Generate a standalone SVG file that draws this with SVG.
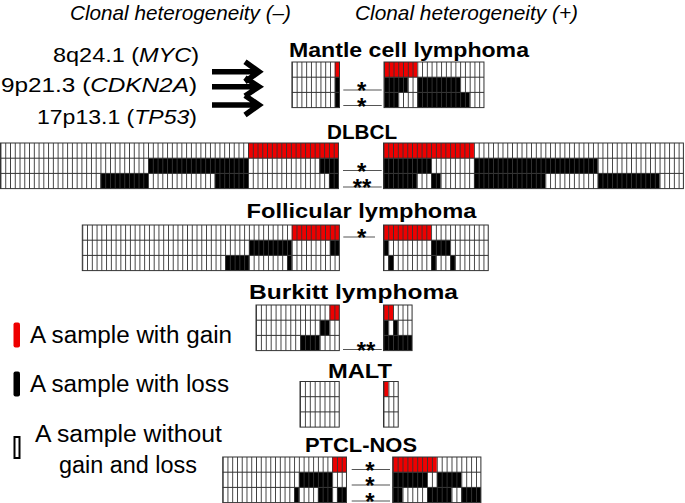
<svg xmlns="http://www.w3.org/2000/svg" width="685" height="503" viewBox="0 0 685 503">
<style>
text{font-family:"Liberation Sans",Arial,sans-serif;fill:#000}
.hd{font-size:21px;font-style:italic}
.gn{font-size:21px}
.tt{font-size:21px;font-weight:bold;text-anchor:middle}
.lg{font-size:23px}
.st{font-size:24px;font-weight:bold;text-anchor:middle}
.bg{fill:#fff}
.r{fill:#ee0000}
.k{fill:#000}
.hl{stroke:#333;stroke-width:1;fill:none}
.fr{fill:none;stroke:#333;stroke-width:1}
.sl{stroke:#555;stroke-width:1.2}
.ar{stroke:#000;stroke-width:5.5;fill:none;stroke-linejoin:miter;stroke-linecap:butt}
</style>
<defs>
<pattern id="p1" patternUnits="userSpaceOnUse" x="0" y="0" width="4.76" height="100"><rect x="0" y="0" width="0.9" height="100" fill="#333"/></pattern>
<pattern id="p2" patternUnits="userSpaceOnUse" x="0" y="0" width="4.9" height="100"><rect x="0" y="0" width="0.9" height="100" fill="#333"/></pattern>
</defs>
<rect width="685" height="503" fill="#fff"/>

<g id="headers">
<text class="hd" x="70" y="19.5" textLength="221" lengthAdjust="spacingAndGlyphs">Clonal heterogeneity (–)</text>
<text class="hd" x="355" y="19.5" textLength="223" lengthAdjust="spacingAndGlyphs">Clonal heterogeneity (+)</text>
</g>

<g id="genes">
<text class="gn" x="53" y="61.5" textLength="146" lengthAdjust="spacingAndGlyphs">8q24.1 (<tspan font-style="italic">MYC</tspan>)</text>
<text class="gn" x="1" y="91.5" textLength="196" lengthAdjust="spacingAndGlyphs">9p21.3 (<tspan font-style="italic">CDKN2A</tspan>)</text>
<text class="gn" x="37" y="123.5" textLength="160" lengthAdjust="spacingAndGlyphs">17p13.1 (<tspan font-style="italic">TP53</tspan>)</text>
</g>

<g id="connectors">
<path class="ar" d="M212 71.7H257 M245 61.7L259 71.7L245 81.7"/>
<path class="ar" d="M212 86.7H257 M245 77.7L259 86.7L245 96"/>
<path class="ar" d="M212 105H257 M245 95.5L259 105L245 115"/>
</g>

<g id="titles">
<text class="tt" x="409" y="57" textLength="240" lengthAdjust="spacingAndGlyphs">Mantle cell lymphoma</text>
<text class="tt" x="362" y="139" textLength="70" lengthAdjust="spacingAndGlyphs">DLBCL</text>
<text class="tt" x="361.5" y="218" textLength="230" lengthAdjust="spacingAndGlyphs">Follicular lymphoma</text>
<text class="tt" x="353.5" y="299" textLength="209" lengthAdjust="spacingAndGlyphs">Burkitt lymphoma</text>
<text class="tt" x="360" y="378" textLength="64" lengthAdjust="spacingAndGlyphs">MALT</text>
<text class="tt" x="361" y="452" textLength="112" lengthAdjust="spacingAndGlyphs">PTCL-NOS</text>
</g>

<g id="mcl-left" transform="translate(291.9,62)">
<rect class="bg" width="47.6" height="45.6"/>
<rect class="r" x="42.84" y="0" width="4.76" height="15.2"/>
<rect class="k" x="42.84" y="15.2" width="4.76" height="30.4"/>
<rect width="47.6" height="45.6" fill="url(#p1)"/>
<path class="hl" d="M0 15.2H47.6M0 30.4H47.6"/>
<rect class="fr" width="47.6" height="45.6"/>
</g>
<g id="mcl-right" transform="translate(384,62)">
<rect class="bg" width="99.96" height="45.6"/>
<rect class="r" x="0" y="0" width="33.32" height="15.2"/>
<rect class="k" x="0" y="15.2" width="23.8" height="15.2"/>
<rect class="k" x="33.32" y="15.2" width="42.84" height="15.2"/>
<rect class="k" x="0" y="30.4" width="14.28" height="15.2"/>
<rect class="k" x="33.32" y="30.4" width="52.36" height="15.2"/>
<rect width="99.96" height="45.6" fill="url(#p1)"/>
<path class="hl" d="M0 15.2H99.96M0 30.4H99.96"/>
<rect class="fr" width="99.96" height="45.6"/>
</g>

<g id="dlbcl-left" transform="translate(0.5,143)">
<rect class="bg" width="337.96" height="45.6"/>
<rect class="r" x="247.52" y="0" width="90.44" height="15.2"/>
<rect class="k" x="147.56" y="15.2" width="99.96" height="15.2"/>
<rect class="k" x="318.92" y="15.2" width="19.04" height="15.2"/>
<rect class="k" x="99.96" y="30.4" width="47.6" height="15.2"/>
<rect class="k" x="214.2" y="30.4" width="33.32" height="15.2"/>
<rect class="k" x="328.44" y="30.4" width="9.52" height="15.2"/>
<rect width="337.96" height="45.6" fill="url(#p1)"/>
<path class="hl" d="M0 15.2H337.96M0 30.4H337.96"/>
<rect class="fr" width="337.96" height="45.6"/>
</g>
<g id="dlbcl-right" transform="translate(383.5,143)">
<rect class="bg" width="299.88" height="45.6"/>
<rect class="r" x="0" y="0" width="90.44" height="15.2"/>
<rect class="k" x="0" y="15.2" width="47.6" height="15.2"/>
<rect class="k" x="90.44" y="15.2" width="123.76" height="15.2"/>
<rect class="k" x="0" y="30.4" width="33.32" height="15.2"/>
<rect class="k" x="47.6" y="30.4" width="9.52" height="15.2"/>
<rect class="k" x="90.44" y="30.4" width="71.4" height="15.2"/>
<rect class="k" x="214.2" y="30.4" width="61.88" height="15.2"/>
<rect width="299.88" height="45.6" fill="url(#p1)"/>
<path class="hl" d="M0 15.2H299.88M0 30.4H299.88"/>
<rect class="fr" width="299.88" height="45.6"/>
</g>

<g id="fl-left" transform="translate(82.3,225)">
<rect class="bg" width="257.04" height="45.6"/>
<rect class="r" x="209.44" y="0" width="47.6" height="15.2"/>
<rect class="k" x="166.6" y="15.2" width="42.84" height="15.2"/>
<rect class="k" x="247.52" y="15.2" width="9.52" height="15.2"/>
<rect class="k" x="142.8" y="30.4" width="23.8" height="15.2"/>
<rect class="k" x="204.68" y="30.4" width="4.76" height="15.2"/>
<rect width="257.04" height="45.6" fill="url(#p1)"/>
<path class="hl" d="M0 15.2H257.04M0 30.4H257.04"/>
<rect class="fr" width="257.04" height="45.6"/>
</g>
<g id="fl-right" transform="translate(383.5,225)">
<rect class="bg" width="104.72" height="45.6"/>
<rect class="r" x="0" y="0" width="47.6" height="15.2"/>
<rect class="k" x="0" y="15.2" width="4.76" height="15.2"/>
<rect class="k" x="47.6" y="15.2" width="19.04" height="15.2"/>
<rect class="k" x="4.76" y="30.4" width="4.76" height="15.2"/>
<rect class="k" x="47.6" y="30.4" width="4.76" height="15.2"/>
<rect class="k" x="66.64" y="30.4" width="4.76" height="15.2"/>
<rect width="104.72" height="45.6" fill="url(#p1)"/>
<path class="hl" d="M0 15.2H104.72M0 30.4H104.72"/>
<rect class="fr" width="104.72" height="45.6"/>
</g>

<g id="bl-left" transform="translate(256,305)">
<rect class="bg" width="83.3" height="45.6"/>
<rect class="r" x="73.5" y="0" width="9.8" height="15.2"/>
<rect class="k" x="63.7" y="15.2" width="9.8" height="15.2"/>
<rect class="k" x="44.1" y="30.4" width="19.6" height="15.2"/>
<rect width="83.3" height="45.6" fill="url(#p2)"/>
<path class="hl" d="M0 15.2H83.3M0 30.4H83.3"/>
<rect class="fr" width="83.3" height="45.6"/>
</g>
<g id="bl-right" transform="translate(383.5,305)">
<rect class="bg" width="28.56" height="45.6"/>
<rect class="r" x="0" y="0" width="9.52" height="15.2"/>
<rect class="k" x="0" y="15.2" width="4.76" height="15.2"/>
<rect class="k" x="9.52" y="15.2" width="4.76" height="15.2"/>
<rect class="k" x="0" y="30.4" width="28.56" height="15.2"/>
<rect width="28.56" height="45.6" fill="url(#p1)"/>
<path class="hl" d="M0 15.2H28.56M0 30.4H28.56"/>
<rect class="fr" width="28.56" height="45.6"/>
</g>

<g id="malt-left" transform="translate(300,381.5)">
<rect class="bg" width="39.2" height="45.6"/>
<rect width="39.2" height="45.6" fill="url(#p2)"/>
<path class="hl" d="M0 15.2H39.2M0 30.4H39.2"/>
<rect class="fr" width="39.2" height="45.6"/>
</g>
<g id="malt-right" transform="translate(383.5,381.5)">
<rect class="bg" width="14.7" height="45.6"/>
<rect class="r" x="0" y="0" width="4.9" height="15.2"/>
<rect width="14.7" height="45.6" fill="url(#p2)"/>
<path class="hl" d="M0 15.2H14.7M0 30.4H14.7"/>
<rect class="fr" width="14.7" height="45.6"/>
</g>

<g id="ptcl-left" transform="translate(222.7,457)">
<rect class="bg" width="123.76" height="45.6"/>
<rect class="r" x="109.48" y="0" width="14.28" height="15.2"/>
<rect class="k" x="76.16" y="15.2" width="33.32" height="15.2"/>
<rect class="k" x="71.4" y="30.4" width="4.76" height="15.2"/>
<rect class="k" x="95.2" y="30.4" width="14.28" height="15.2"/>
<rect class="k" x="114.24" y="30.4" width="9.52" height="15.2"/>
<rect width="123.76" height="45.6" fill="url(#p1)"/>
<path class="hl" d="M0 15.2H123.76M0 30.4H123.76"/>
<rect class="fr" width="123.76" height="45.6"/>
</g>
<g id="ptcl-right" transform="translate(392.7,457)">
<rect class="bg" width="88.2" height="45.6"/>
<rect class="r" x="0" y="0" width="44.1" height="15.2"/>
<rect class="k" x="0" y="15.2" width="34.3" height="15.2"/>
<rect class="k" x="44.1" y="15.2" width="24.5" height="15.2"/>
<rect class="k" x="0" y="30.4" width="9.8" height="15.2"/>
<rect class="k" x="34.3" y="30.4" width="24.5" height="15.2"/>
<rect class="k" x="68.6" y="30.4" width="19.6" height="15.2"/>
<rect width="88.2" height="45.6" fill="url(#p2)"/>
<path class="hl" d="M0 15.2H88.2M0 30.4H88.2"/>
<rect class="fr" width="88.2" height="45.6"/>
</g>

<g id="significance">
<path class="sl" d="M343.3 90H381.7M343.3 105.5H381.7M343 170.5H381.7M343 187H381.7M343.3 237H375M343 349.5H381.7M351.7 469.5H390M351.7 485H390M351.7 501H390"/>
<text class="st"><tspan x="361.7" y="99">*</tspan><tspan x="361.7" y="114.5">*</tspan></text>
<text class="st"><tspan x="361.7" y="179.5">*</tspan><tspan x="362" y="196">**</tspan></text>
<text class="st" x="361.7" y="246">*</text>
<text class="st" x="366" y="358.5">**</text>
<text class="st"><tspan x="370" y="478.5">*</tspan><tspan x="370" y="494">*</tspan><tspan x="370" y="510">*</tspan></text>
</g>

<g id="legend">
<rect x="13.5" y="322.5" width="6.5" height="25" rx="2" fill="#ee0000"/>
<text class="lg" x="30" y="343" textLength="202" lengthAdjust="spacingAndGlyphs">A sample with gain</text>
<rect x="13.5" y="371.5" width="6.5" height="25" rx="2" fill="#000"/>
<text class="lg" x="30" y="392" textLength="199" lengthAdjust="spacingAndGlyphs">A sample with loss</text>
<rect x="14.5" y="437" width="5" height="21" fill="#fff" stroke="#000" stroke-width="2"/>
<text class="lg" x="35" y="442" textLength="187" lengthAdjust="spacingAndGlyphs">A sample without</text>
<text class="lg" x="59" y="473" textLength="138" lengthAdjust="spacingAndGlyphs">gain and loss</text>
</g>
</svg>
